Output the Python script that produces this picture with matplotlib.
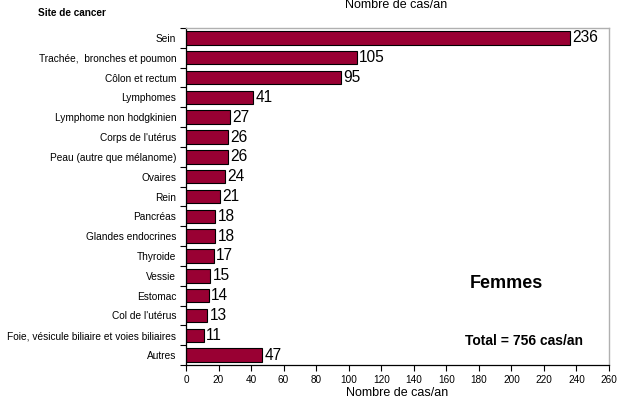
import matplotlib
matplotlib.use("Agg")
import matplotlib.pyplot as plt
from matplotlib.ticker import FixedLocator
import numpy as np

plt.rcParams['font.family'] = ['Liberation Sans', 'DejaVu Sans']

categories = ["Sein", "Trachée,  bronches et poumon", "Côlon et rectum", "Lymphomes",
              "Lymphome non hodgkinien", "Corps de l'utérus", "Peau (autre que mélanome)",
              "Ovaires", "Rein", "Pancréas", "Glandes endocrines", "Thyroide", "Vessie",
              "Estomac", "Col de l'utérus", "Foie, vésicule biliaire et voies biliaires", "Autres"]
values = [236, 105, 95, 41, 27, 26, 26, 24, 21, 18, 18, 17, 15, 14, 13, 11, 47]
xticks = list(range(0, 261, 20))

fig = plt.figure(figsize=(6.22, 4.03), dpi=100)
ax = fig.add_axes([186/622, 1-365/403, (609-186)/622, (365-28)/403])

y = np.arange(len(categories))
ax.barh(y, values, height=0.68, color='#990033', edgecolor='black', linewidth=0.8)
for yi, v in zip(y, values):
    ax.text(v + 1.5, yi, str(v), va='center', ha='left', fontsize=11.2)

ax.set_ylim(len(categories) - 0.5, -0.5)
ax.set_xlim(0, 260)
ax.set_yticks(y)
ax.set_yticklabels(categories, fontsize=7.25)
ax.tick_params(axis='y', which='major', length=0, pad=7)
ax.yaxis.set_minor_locator(FixedLocator(np.arange(-0.5, len(categories), 1.0)))
ax.tick_params(axis='y', which='minor', length=4, direction='out', width=0.8)
ax.set_xticks(xticks)
ax.set_xticklabels([str(t) for t in xticks], fontsize=7.2)
ax.tick_params(axis='x', length=4, direction='out', width=0.8, pad=3)
ax.set_xlabel("Nombre de cas/an", fontsize=9, labelpad=2)

for s in ['top', 'right']:
    ax.spines[s].set_color('#b0b0b0')
    ax.spines[s].set_linewidth(1.0)
for s in ['left', 'bottom']:
    ax.spines[s].set_color('black')
    ax.spines[s].set_linewidth(0.9)

fig.text(38/622, 1-13/403, "Site de cancer", fontsize=7.2, fontweight='bold', ha='left', va='center')
fig.text(396/622, 1-5/403, "Nombre de cas/an", fontsize=9, ha='center', va='center')
fig.text(506/622, 1-283/403, "Femmes", fontsize=13, fontweight='bold', ha='center', va='center')
fig.text(524/622, 1-341/403, "Total = 756 cas/an", fontsize=10, fontweight='bold', ha='center', va='center')

fig.savefig("out.png", dpi=100)
